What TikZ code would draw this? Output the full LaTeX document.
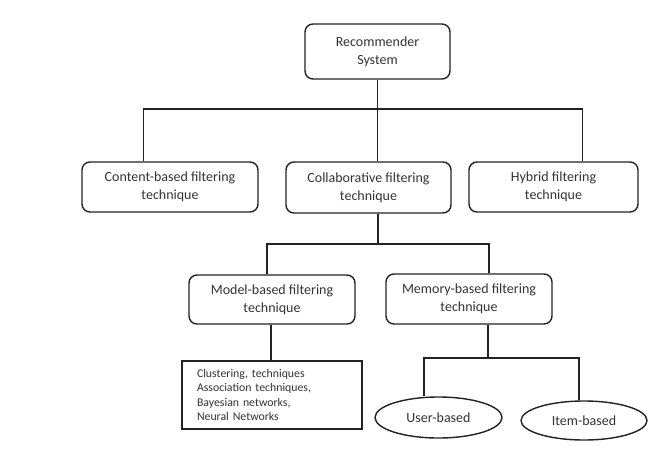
\documentclass[tikz,border=0pt]{standalone}
\usepackage{fontspec}
\setmainfont{Carlito}
\usetikzlibrary{shapes.geometric}
\definecolor{txt}{HTML}{333333}
\definecolor{ln}{HTML}{222222}
\tikzset{
  box/.style={draw=ln, line width=1.4pt, rounded corners=8pt, align=center,
    text=txt, font=\fontsize{14}{18}\selectfont, inner sep=0pt},
  listbox/.style={draw=ln, line width=1.4pt, align=left, text=txt,
    font=\fontsize{11.8}{14.3}\selectfont, inner xsep=15pt, inner ysep=0pt,
    text width=150pt, minimum width=180pt, minimum height=68pt},
  oval/.style={draw=ln, line width=1.4pt, ellipse, inner sep=0pt, text=txt,
    font=\fontsize{14}{18}\selectfont},
  wire/.style={draw=ln, line width=1.4pt}
}
\begin{document}
\begin{tikzpicture}[x=1pt,y=-1pt]
\useasboundingbox (0,0) rectangle (658,461);
\node[box, minimum width=145pt, minimum height=55pt] (root) at (377.5,51.5) {Recommender\\System};
\node[box, minimum width=176pt, minimum height=50pt] (content) at (170,187) {Content-based filtering\\technique};
\node[box, minimum width=165pt, minimum height=51pt] (collab) at (368.5,187.5) {Collaborative filtering\\technique};
\node[box, minimum width=169pt, minimum height=50pt] (hybrid) at (553.5,187) {Hybrid filtering\\technique};
\node[box, minimum width=166pt, minimum height=49pt] (model) at (272,299.5) {Model-based filtering\\technique};
\node[box, minimum width=166pt, minimum height=50pt] (memory) at (469,299) {Memory-based filtering\\technique};
\node[listbox] (list) at (272,395) {Clustering, techniques\\Association techniques,\\Bayesian networks,\\Neural Networks};
\node[oval, minimum width=127pt, minimum height=41pt] (user) at (438.5,417.5) {User-based};
\node[oval, minimum width=126pt, minimum height=39pt] (item) at (584,420.5) {Item-based};
% connectors
\coordinate (busA) at (0,109);
\coordinate (busB) at (0,244);
\coordinate (busC) at (0,358);
\draw[wire] (root.south) -- (root.south |- collab.north);
\draw[wire] ([xshift=62pt]content.north west) -- ([xshift=62pt]content.north west |- busA)
  -- ([xshift=-56pt]hybrid.north east |- busA) -- ([xshift=-56pt]hybrid.north east);
\draw[wire] ([xshift=9.5pt]collab.south) -- ([xshift=9.5pt]collab.south |- busB);
\draw[wire] ([xshift=-5pt]model.north) |- ([xshift=20pt]memory.north |- busB) -- ([xshift=20pt]memory.north);
\draw[wire] ([xshift=-1pt]model.south) -- ([xshift=-1pt]model.south |- list.north);
\draw[wire] ([xshift=19pt]memory.south) -- ([xshift=19pt]memory.south |- busC);
\draw[wire] ([xshift=-14.5pt]user.north) |- ([xshift=-5pt]item.north |- busC) -- ([xshift=-5pt]item.north);
\end{tikzpicture}
\end{document}
